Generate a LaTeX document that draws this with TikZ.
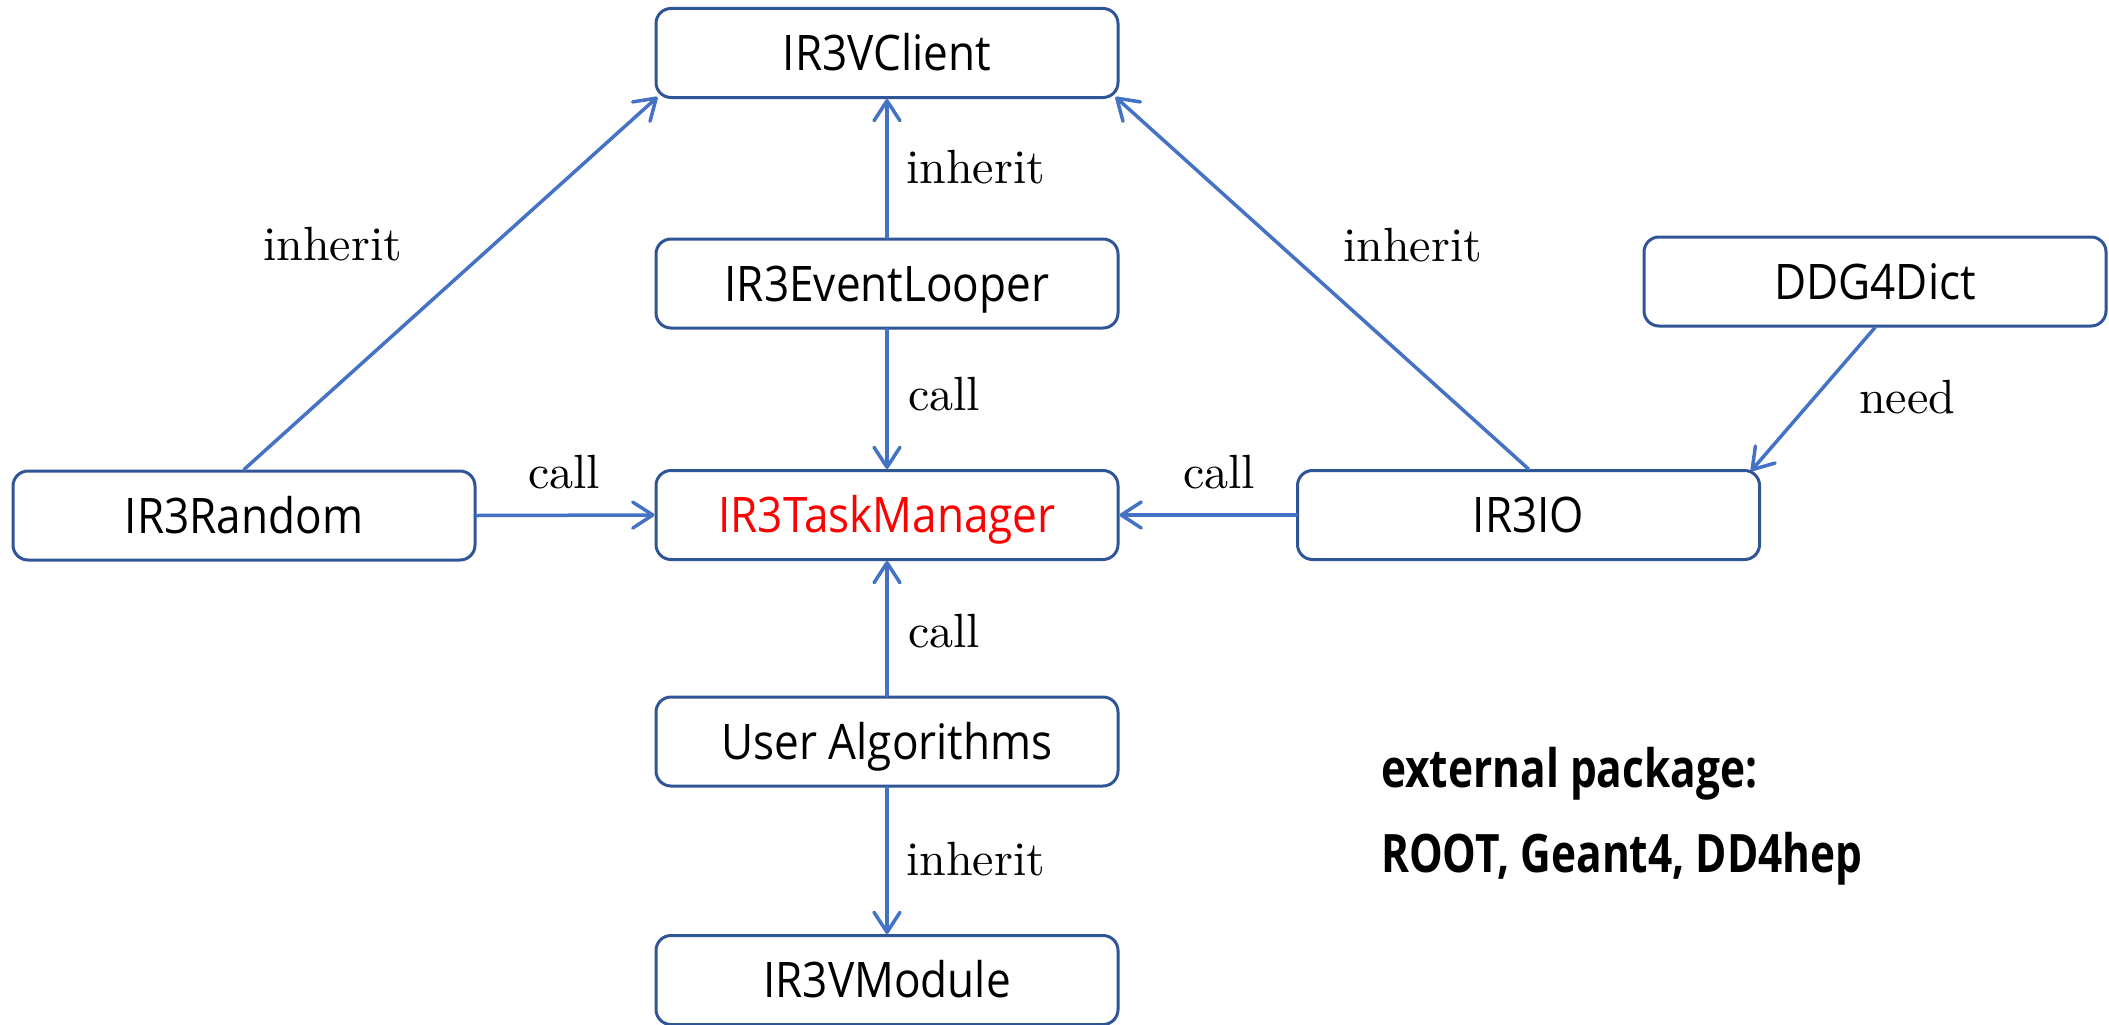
\documentclass[tikz,border=0pt]{standalone}
\usepackage{fontspec}
\usetikzlibrary{arrows.meta}
\newfontfamily\boxfont{Open Sans}[FakeStretch=0.9]
\newfontfamily\notefont{Open Sans}[FakeStretch=0.8]
\newfontfamily\tagfont{lmroman10-regular}[Extension=.otf]
\definecolor{boxline}{RGB}{47,85,151}
\definecolor{arrowline}{RGB}{68,114,196}
\definecolor{taskred}{RGB}{255,0,0}
\tikzset{
  classbox/.style={draw=boxline, line width=3pt, rounded corners=15pt,
    minimum width=462pt, minimum height=89pt, inner sep=0pt,
    text height=35pt, text depth=0pt,
    font=\boxfont\fontsize{49}{55}\selectfont},
  link/.style={draw=arrowline, line width=3.5pt, line cap=round,
    -{Straight Barb[length=20pt,width=26pt,line cap=round,line join=round]}},
  tag/.style={anchor=base west, inner sep=0pt,
    font=\tagfont\fontsize{48}{54}\selectfont},
  note/.style={anchor=base west, inner sep=0pt,
    font=\notefont\bfseries\fontsize{53}{59}\selectfont}
}
\begin{document}
\begin{tikzpicture}[x=1pt, y=-1pt]
  \useasboundingbox (0,0) rectangle (2109,1025);

  % class boxes
  \node[classbox] (vclient) at (887,53)     {IR3VClient};
  \node[classbox] (looper)  at (887,283.5)  {IR3EventLooper};
  \node[classbox, text=taskred] (task) at (887,515) {IR3TaskManager};
  \node[classbox] (random)  at (244,515.5)  {IR3Random};
  \node[classbox] (io)      at (1528.5,515) {IR3IO};
  \node[classbox] (ddg)     at (1875,281.5) {DDG4Dict};
  \node[classbox] (user)    at (887,741.5)  {User Algorithms};
  \node[classbox] (vmodule) at (887,980)    {IR3VModule};

  % relations
  \draw[link] (random.north) -- ([shift={(3,-2)}]vclient.south west);
  \draw[link] (looper.north) -- (vclient.south);
  \draw[link] (io.north) -- ([shift={(-4,-2)}]vclient.south east);
  \draw[link] (looper.south) -- (task.north);
  \draw[link] (random.east) -- (task.west);
  \draw[link] (io.west) -- (task.east);
  \draw[link] (user.north) -- (task.south);
  \draw[link] (user.south) -- (vmodule.north);
  \draw[link] (ddg.south) -- ([shift={(-10,2)}]io.north east);

  % relation labels
  \node[tag] (t1) at (263,260)  {inherit};
  \node[tag] (t2) at (906,183)  {inherit};
  \node[tag] (t3) at (1343,261) {inherit};
  \node[tag] (t4) at (908,410)  {call};
  \node[tag] (t5) at (528,488)  {call};
  \node[tag] (t6) at (1183,488) {call};
  \node[tag] (t7) at (1859,413) {need};
  \node[tag] (t8) at (908,647)  {call};
  \node[tag] (t9) at (906,875)  {inherit};

  % external packages
  \node[note] (ext1) at (1381,787) {external package:};
  \node[note] (ext2) at (1381,872) {ROOT, Geant4, DD4hep};
\end{tikzpicture}
\end{document}
